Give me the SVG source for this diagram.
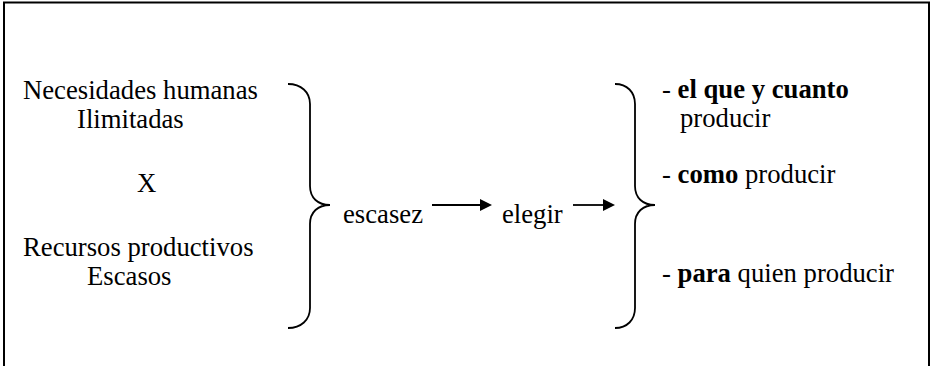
<svg xmlns="http://www.w3.org/2000/svg" width="930" height="366" viewBox="0 0 930 366">
  <style>
    text { font-family: "Liberation Serif", "Times New Roman", serif; font-size: 26.7px; fill: #000; }
    .b { font-weight: bold; }
    .brace { fill: none; stroke: #000; stroke-width: 1.8; }
    .conn { stroke: #000; stroke-width: 1.8; fill: none; }
    .head { fill: #000; }
  </style>
  <rect x="4" y="2.5" width="925" height="420" fill="#fff" stroke="#000" stroke-width="2"/>
  <g id="left-text">
    <text x="23" y="99">Necesidades humanas</text>
    <text x="77" y="128">Ilimitadas</text>
    <text x="137" y="192">X</text>
    <text x="23" y="256">Recursos productivos</text>
    <text x="87" y="285">Escasos</text>
  </g>
  <g id="left-brace">
    <path class="brace" d="M288,84 C301,84 310,92 310,104 L310,186 C310,198 318,205 330,205 C318,205 310,212 310,224 L310,308 C310,320 301,328 288,328"/>
  </g>
  <g id="escasez">
    <text x="343" y="223">escasez</text>
  </g>
  <g id="elegir">
    <text x="502" y="223">elegir</text>
  </g>
  <g id="right-brace">
    <path class="brace" d="M615,84 C627,84 635,92 635,104 L635,186 C635,198 643,205 655,205 C643,205 635,212 635,224 L635,308 C635,320 627,328 615,328"/>
  </g>
  <g id="right-text">
    <text x="662" y="98">- <tspan class="b">el que y cuanto</tspan></text>
    <text x="680" y="127">producir</text>
    <text x="662" y="183">- <tspan class="b">como</tspan> producir</text>
    <text x="662" y="282">- <tspan class="b">para</tspan> quien producir</text>
  </g>
  <g id="connectors">
    <line class="conn" x1="432" y1="205" x2="481" y2="205"/>
    <polygon class="head" points="480,199 492,205 480,211"/>
    <line class="conn" x1="573" y1="205" x2="604" y2="205"/>
    <polygon class="head" points="603,199 615,205 603,211"/>
  </g>
</svg>
